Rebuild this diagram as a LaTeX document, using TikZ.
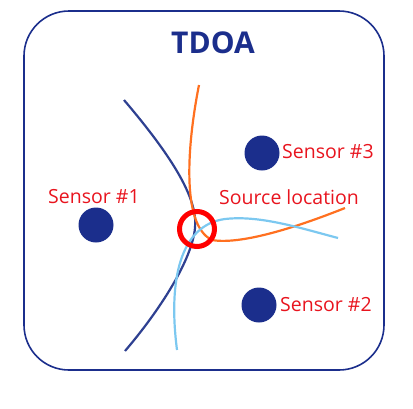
\documentclass[tikz,border=0pt]{standalone}
\usepackage{fontspec}
\setmainfont{Open Sans}
\definecolor{navy}{RGB}{27,46,140}
\definecolor{curvenavy}{RGB}{46,64,145}
\definecolor{orng}{RGB}{255,112,32}
\definecolor{lblue}{RGB}{124,200,240}
\definecolor{lblred}{RGB}{232,20,30}
\begin{document}
\begin{tikzpicture}[x=1pt,y=-1pt,
  sensor/.style={circle,fill=navy,minimum size=35pt,inner sep=0pt},
  lbl/.style={text=lblred,font=\fontsize{19.5}{22}\selectfont,inner sep=0pt}]
\useasboundingbox (0,0) rectangle (413,408);
\draw[navy,line width=1.6pt,rounded corners=45pt] (24,11) rectangle (384,370);
\node[text=navy,font=\bfseries\fontsize{30}{34}\selectfont,inner sep=0pt] (title) at (213,43) {TDOA};
% curves
\draw[curvenavy,line width=2.2pt] (124,100) .. controls (175,160) and (198,200) .. (195,228) .. controls (192,260) and (160,310) .. (125,351);
\draw[orng,line width=2.2pt] (199,85) .. controls (188,140) and (180,225) .. (212,240) .. controls (240,245) and (295,228) .. (345,208);
\draw[lblue,line width=2.2pt] (177,350) .. controls (168,280) and (180,225) .. (225,219) .. controls (260,215) and (300,228) .. (338,238);
\node[circle,draw=red,line width=5pt,minimum size=35pt,inner sep=0pt] (src) at (197,229) {};
% sensors
\node[sensor] (s1) at (96,225) {};
\node[sensor] (s2) at (259,305) {};
\node[sensor] (s3) at (262,153) {};
\node[lbl,anchor=west] (l1) at (48,197) {Sensor \#1};
\node[lbl,anchor=west] (l2) at (280,305) {Sensor \#2};
\node[lbl,anchor=west] (l3) at (282,152) {Sensor \#3};
\node[lbl,anchor=west] (ls) at (219,197) {Source location};
\end{tikzpicture}
\end{document}
